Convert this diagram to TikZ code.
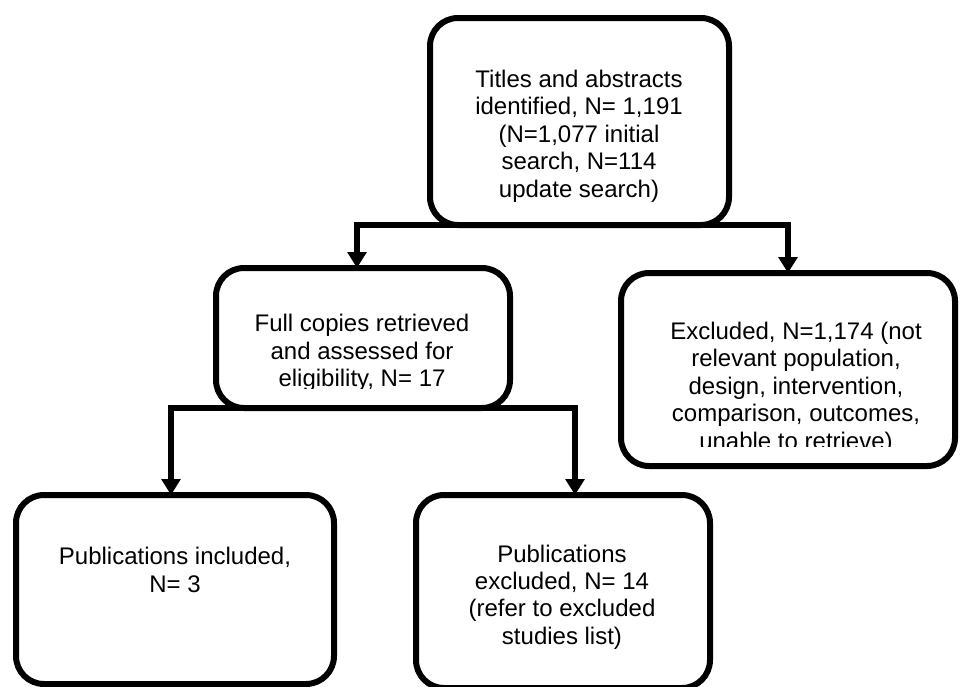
\documentclass[tikz,border=0pt]{standalone}
\usepackage{fontspec}
\setmainfont{Liberation Sans}
\usetikzlibrary{arrows.meta}

\begin{document}
\begin{tikzpicture}[x=0.75pt, y=-0.75pt,
  box/.style={draw, line width=4.5pt, rounded corners=21pt, outer sep=0pt},
  txt/.style={align=center, inner sep=0pt, font=\fontsize{18}{20.6}\selectfont},
  flow/.style={-{Triangle[width=14pt, length=12pt]}, line width=4.5pt}]
\useasboundingbox (0, 0) rectangle (960, 686);

\node [box, minimum width=224.25pt, minimum height=155.25pt] (titles) at (579.5, 121.5) {};
\node [txt] (titlesText) at (579, 136) {Titles and abstracts\\identified, N= 1,191\\(N=1,077 initial\\search, N=114\\update search)};

\node [box, minimum width=220.5pt, minimum height=105pt] (full) at (363, 338) {};
\node [box, minimum width=250.5pt, minimum height=144.75pt] (excluded) at (788, 369.5) {};
\node [box, minimum width=238.5pt, minimum height=141.75pt] (included) at (175, 589.5) {};
\node [box, minimum width=220.5pt, minimum height=144.75pt] (pubExcl) at (563, 591.5) {};

% text frames cut off at the bottom
\begin{scope}
\clip (216, 268) rectangle (510, 388);
\node [txt] (fullText) at (362, 353) {Full copies retrieved\\and assessed for\\eligibility, N= 17};
\end{scope}
\begin{scope}
\clip (621, 273) rectangle (955, 446);
\node [txt] (excludedText) at (796, 388) {Excluded, N=1,174 (not\\relevant population,\\design, intervention,\\comparison, outcomes,\\unable to retrieve)};
\end{scope}

\node [txt] (includedText) at (175, 570) {Publications included,\\N= 3};
\node [txt] (pubExclText) at (562, 597) {Publications\\excluded, N= 14\\(refer to excluded\\studies list)};

\draw [flow] (titles.south) -| ([xshift=-4.5pt]full.north);
\draw [flow] (titles.south) -| (excluded.north);
\draw [flow] (full.south) -| ([xshift=-3pt]included.north);
\draw [flow] (full.south) -| ([xshift=9pt]pubExcl.north);
\end{tikzpicture}
\end{document}
